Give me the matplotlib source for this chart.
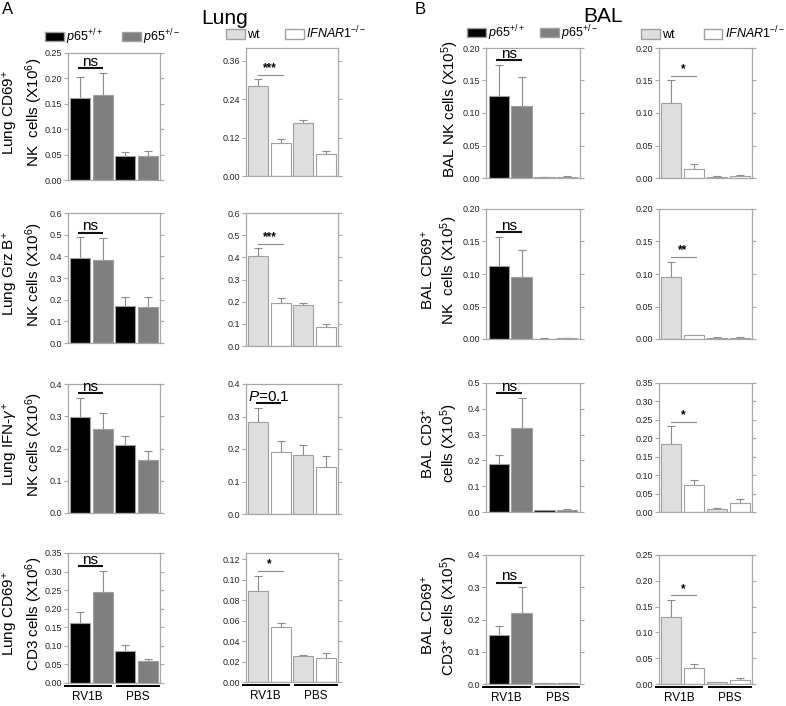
import matplotlib
matplotlib.use("Agg")
import matplotlib.pyplot as plt
from matplotlib.patches import Patch
import numpy as np

plt.rcParams['font.family'] = ['Liberation Sans', 'DejaVu Sans']
plt.rcParams['mathtext.fontset'] = 'custom'
plt.rcParams['mathtext.rm'] = 'Liberation Sans'
plt.rcParams['mathtext.it'] = 'Liberation Sans:italic'

# ---- data (means and SEM) ----
groups = ['RV1B', 'PBS']

lung_p65_mean = [[0.162, 0.168, 0.048, 0.048],
                 [0.391, 0.385, 0.169, 0.166],
                 [0.298, 0.261, 0.211, 0.164],
                 [0.162, 0.246, 0.085, 0.058]]
lung_p65_sem = [[0.041, 0.043, 0.008, 0.010],
                [0.098, 0.100, 0.043, 0.046],
                [0.059, 0.048, 0.029, 0.027],
                [0.030, 0.056, 0.017, 0.007]]

lung_ifnar_mean = [[0.280, 0.104, 0.166, 0.070],
                   [0.405, 0.196, 0.187, 0.085],
                   [0.282, 0.190, 0.181, 0.146],
                   [0.089, 0.054, 0.025, 0.0237]]
lung_ifnar_sem = [[0.023, 0.011, 0.010, 0.007],
                  [0.036, 0.019, 0.009, 0.012],
                  [0.045, 0.034, 0.031, 0.034],
                  [0.015, 0.0035, 0.0016, 0.0043]]

bal_p65_mean = [[0.126, 0.111, 0.001, 0.0015],
                [0.113, 0.096, 0.0005, 0.001],
                [0.185, 0.326, 0.0064, 0.0077],
                [0.153, 0.221, 0.002, 0.003]]
bal_p65_sem = [[0.048, 0.044, 0.0005, 0.0015],
               [0.044, 0.041, 0.0003, 0.001],
               [0.035, 0.117, 0.001, 0.005],
               [0.026, 0.079, 0.0005, 0.001]]

bal_ifnar_mean = [[0.115, 0.0144, 0.002, 0.003],
                  [0.095, 0.0056, 0.002, 0.002],
                  [0.185, 0.0745, 0.008, 0.0245],
                  [0.130, 0.031, 0.0032, 0.0077]]
bal_ifnar_sem = [[0.035, 0.007, 0.0016, 0.001],
                 [0.024, 0.001, 0.0005, 0.0005],
                 [0.047, 0.0125, 0.003, 0.011],
                 [0.033, 0.007, 0.0013, 0.0033]]

sig_lung_p65 = ['ns', 'ns', 'ns', 'ns']
sig_lung_ifnar = ['***', '***', 'P=0.1', '*']
sig_bal_p65 = ['ns', 'ns', 'ns', 'ns']
sig_bal_ifnar = ['*', '**', '*', '*']

# (ymax, tick step, decimals) per column/row
yaxes = {
    0: [(0.25, 0.05, 2), (0.6, 0.1, 1), (0.4, 0.1, 1), (0.35, 0.05, 2)],
    1: [(0.40, 0.12, 2), (0.6, 0.1, 1), (0.4, 0.1, 1), (0.126, 0.02, 2)],
    2: [(0.20, 0.05, 2), (0.20, 0.05, 2), (0.5, 0.1, 1), (0.4, 0.1, 1)],
    3: [(0.20, 0.05, 2), (0.20, 0.05, 2), (0.35, 0.05, 2), (0.25, 0.05, 2)],
}
tick_top = {(1, 0): 0.36, (1, 3): 0.12}

ylabels_lung = [r'Lung CD69$^{+}$' + '\n' + r'NK  cells (X10$^{6}$)',
                r'Lung Grz B$^{+}$' + '\n' + r'NK cells (X10$^{6}$)',
                r'Lung IFN-$\gamma^{+}$' + '\n' + r'NK cells (X10$^{6}$)',
                r'Lung CD69$^{+}$' + '\n' + r'CD3 cells (X10$^{6}$)']
ylabels_bal = [r'BAL NK cells (X10$^{5}$)',
               r'BAL CD69$^{+}$' + '\n' + r'NK  cells (X10$^{5}$)',
               r'BAL CD3$^{+}$' + '\n' + r'cells (X10$^{5}$)',
               r'BAL CD69$^{+}$' + '\n' + r'CD3$^{+}$ cells (X10$^{5}$)']

# ---- layout (pixels) ----
W, H = 786, 706
col_x = [(68, 160), (246, 338), (486, 580), (659, 752)]
row_y = [[(53, 180), (48, 176), (48, 178), (48, 178)],
         [(213, 343), (213, 346), (209, 339), (209, 339)],
         [(384, 513), (384, 514), (383, 512), (383, 512)],
         [(553, 683), (553, 682), (555, 684), (555, 684)]]

BLACK, DGRAY, LGRAY, WHITE = '#000000', '#7f7f7f', '#dedede', '#ffffff'
EDGE = '#a0a0a0'
SPINE = '#a8a8a8'

fig = plt.figure(figsize=(W / 100, H / 100), dpi=100)


def box(l, t, r, b):
    return [l / W, 1 - b / H, (r - l) / W, (b - t) / H]


def panel(ax, means, sems, colors, ymax, step, dec, ttop, sig, last_row):
    x = np.arange(4)
    ax.bar(x, means, width=0.88, color=colors, edgecolor=EDGE, linewidth=0.8, zorder=2)
    ax.errorbar(x, means, yerr=[np.zeros(4), sems], fmt='none', ecolor='#8c8c8c',
                elinewidth=0.8, capsize=3, capthick=0.8, zorder=1)
    ax.set_xlim(-0.55, 3.55)
    ax.set_ylim(0, ymax)
    top = ttop if ttop is not None else ymax
    ticks = np.arange(0, top + step / 2, step)
    ax.set_yticks(ticks)
    ax.set_yticklabels([f'{t:.{dec}f}' for t in ticks], fontsize=6.5, color='#222222')
    ax.set_xticks([])
    for s in ax.spines.values():
        s.set_color(SPINE)
        s.set_linewidth(0.9)
    ax.tick_params(axis='y', which='both', direction='out', length=3, width=0.8,
                   color=SPINE, pad=1.5, right=True, labelright=False)

    # significance bracket
    yb = max(means[0] + sems[0], means[1] + sems[1]) + 0.035 * ymax
    if sig == 'ns' or sig.startswith('P'):
        ax.plot([-0.1, 1.0], [yb, yb], color='#111111', lw=1.5, solid_capstyle='butt',
                clip_on=False)
        txt = 'ns' if sig == 'ns' else r'$\mathit{P}$=0.1'
        ax.text(0.45, yb - 0.005 * ymax, txt, ha='center', va='bottom', fontsize=11)
    else:
        ax.plot([0.0, 1.08], [yb, yb], color='#8c8c8c', lw=0.8, clip_on=False)
        ax.text(0.5, yb + 0.005 * ymax, sig, ha='center', va='bottom', fontsize=8.5,
                fontweight='bold')

    if last_row:
        tr = ax.get_xaxis_transform()
        for (a, b), g in zip([(-0.7, 1.35), (1.65, 3.5)], groups):
            ax.plot([a, b], [-0.025, -0.025], transform=tr, color='black', lw=1.4,
                    clip_on=False)
            ax.text((a + b) / 2, -0.065, g, transform=tr, ha='center', va='top',
                    fontsize=8.5)


cols = [(lung_p65_mean, lung_p65_sem, [BLACK, DGRAY, BLACK, DGRAY], sig_lung_p65),
        (lung_ifnar_mean, lung_ifnar_sem, [LGRAY, WHITE, LGRAY, WHITE], sig_lung_ifnar),
        (bal_p65_mean, bal_p65_sem, [BLACK, DGRAY, BLACK, DGRAY], sig_bal_p65),
        (bal_ifnar_mean, bal_ifnar_sem, [LGRAY, WHITE, LGRAY, WHITE], sig_bal_ifnar)]

axes = {}
for r in range(4):
    for c in range(4):
        l, rr = col_x[c]
        t, b = row_y[r][c]
        ax = fig.add_axes(box(l, t, rr, b))
        means, sems, colors, sigs = cols[c]
        ymax, step, dec = yaxes[c][r]
        panel(ax, means[r], sems[r], colors, ymax, step, dec, tick_top.get((c, r)),
              sigs[r], r == 3)
        axes[(r, c)] = ax

# y labels
for r in range(4):
    t, b = row_y[r][0]
    fig.text(23 / W, 1 - ((t + b) / 2 - 4) / H, ylabels_lung[r], rotation=90,
             ha='center', va='center', fontsize=11, multialignment='center')
    t, b = row_y[r][2]
    xl = 450 if r == 0 else 440
    fig.text(xl / W, 1 - ((t + b) / 2 - 4) / H, ylabels_bal[r], rotation=90,
             ha='center', va='center', fontsize=11, multialignment='center')

# legends
p65_handles = [Patch(facecolor=BLACK, edgecolor=EDGE, label=r'$\mathit{p65}^{+/+}$'),
               Patch(facecolor=DGRAY, edgecolor=EDGE, label=r'$\mathit{p65}^{+/-}$')]
ifn_handles = [Patch(facecolor=LGRAY, edgecolor=EDGE, label='wt'),
               Patch(facecolor=WHITE, edgecolor=EDGE, label=r'$\mathit{IFNAR1}^{-/-}$')]
for (x0, y0, handles, cs) in [(45, 37, p65_handles, 1.5), (226, 33, ifn_handles, 2.0),
                              (467, 33, p65_handles, 1.2), (641, 33, ifn_handles, 2.3)]:
    fig.legend(handles=handles, ncol=2, loc='center left',
               bbox_to_anchor=(x0 / W, 1 - y0 / H), frameon=False, fontsize=9,
               handlelength=1.5, handleheight=0.75, handletextpad=0.2,
               columnspacing=cs, borderpad=0, borderaxespad=0)

# titles
fig.text(225 / W, 1 - 18 / H, 'Lung', ha='center', va='center', fontsize=15)
fig.text(603 / W, 1 - 16 / H, 'BAL', ha='center', va='center', fontsize=15)
fig.text(8 / W, 1 - 10 / H, 'A', ha='center', va='center', fontsize=12)
fig.text(420 / W, 1 - 10 / H, 'B', ha='center', va='center', fontsize=12)

fig.savefig('out.png', dpi=100)
